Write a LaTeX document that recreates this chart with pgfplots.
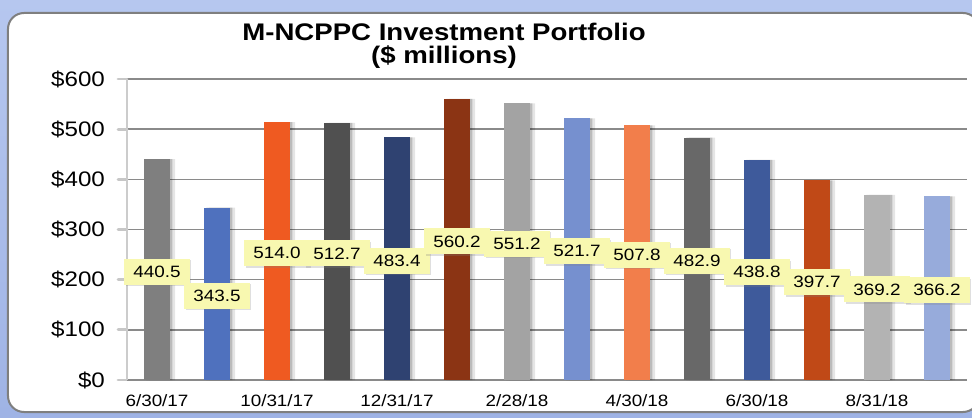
\documentclass[border=0pt]{standalone}
\usepackage{fontspec}
\setmainfont{Liberation Sans}[FakeStretch=1.15]
\usepackage{pgfplots}
\pgfplotsset{compat=1.18}
\usepackage{pgfplotstable}
\usetikzlibrary{shadows}

% bar colours, left to right
\definecolor{bar0}{HTML}{7F7F7F}
\definecolor{bar1}{HTML}{4F71BE}
\definecolor{bar2}{HTML}{EF5A21}
\definecolor{bar3}{HTML}{505050}
\definecolor{bar4}{HTML}{2F4271}
\definecolor{bar5}{HTML}{8B3414}
\definecolor{bar6}{HTML}{A3A3A3}
\definecolor{bar7}{HTML}{7690CF}
\definecolor{bar8}{HTML}{F27E4B}
\definecolor{bar9}{HTML}{686868}
\definecolor{bar10}{HTML}{3E5A9B}
\definecolor{bar11}{HTML}{C04917}
\definecolor{bar12}{HTML}{B3B3B3}
\definecolor{bar13}{HTML}{97ABDB}
\definecolor{labelfill}{HTML}{F8F8B0}
\definecolor{bgtop}{HTML}{B6C7EF}
\definecolor{bgbot}{HTML}{9FB3E5}
\definecolor{panelgray}{HTML}{7F7F7F}
\definecolor{gridgray}{HTML}{8A8A8A}

% portfolio value, $ millions
\pgfplotstableread{
i v
0 440.5
1 343.5
2 514.0
3 512.7
4 483.4
5 560.2
6 551.2
7 521.7
8 507.8
9 482.9
10 438.8
11 397.7
12 369.2
13 366.2
}\portfolio

\begin{document}
\begin{tikzpicture}
\useasboundingbox (-63.5pt,-18.5pt) rectangle (422.5pt,190pt);
\shade[top color=bgtop, bottom color=bgbot] (-63.5pt,-18.5pt) rectangle (422.5pt,190pt);
\filldraw[fill=white, draw=panelgray, line width=1pt, rounded corners=8pt]
  (-59.5pt,-16pt) rectangle (426pt,183.5pt);

\begin{axis}[
    at={(0pt,0pt)}, anchor=south west,
    scale only axis, width=420pt, height=150.5pt,
    xmin=-0.5, xmax=13.5, ymin=0, ymax=600,
    axis lines*=left,
    axis line style={-},
    x axis line style={gridgray, line width=0.8pt},
    y axis line style={black!20, line width=1.4pt},
    tick align=outside,
    major tick length=4.5pt,
    ytick={0,100,...,600},
    ytick style={black!22, line width=1.4pt, line cap=round},
    yticklabel={\$\pgfmathprintnumber{\tick}},
    yticklabel style={font=\fontsize{10.5}{12}\selectfont, xshift=-3pt},
    xtick={0,...,13},
    xtick style={draw=none},
    xticklabels={6/30/17,,10/31/17,,12/31/17,,2/28/18,,4/30/18,,6/30/18,,8/31/18,},
    xticklabel style={font=\fontsize{8.2}{10}\selectfont, yshift=0.5pt},
    extra x ticks={-0.5,0,0.5,...,13.5},
    extra x tick labels={},
    extra x tick style={major tick length=2pt, tick style={gridgray, line width=0.8pt}},
    ymajorgrids=true,
    grid style={gridgray, line width=0.7pt},
    /pgf/number format/assume math mode=true,
]
% soft shadow to the right of each bar
\addplot[ybar, bar width=13pt, bar shift=2.6pt, draw=none, fill=black, fill opacity=0.10]
  table[x=i, y=v]{\portfolio};
\addplot[ybar, bar width=13pt, bar shift=1.2pt, draw=none, fill=black, fill opacity=0.18]
  table[x=i, y=v]{\portfolio};
% bars, one colour each
\pgfplotsinvokeforeach{0,...,13}{
  \addplot[ybar, bar width=13pt, bar shift=0pt, draw=none, fill=bar#1,
    restrict x to domain=#1:#1] table[x=i, y=v]{\portfolio};
}
% value labels, set half way up each bar
\addplot[draw=none, point meta=explicit,
  nodes near coords={\pgfmathprintnumber[fixed, fixed zerofill, precision=1]{\pgfplotspointmeta}},
  every node near coord/.append style={anchor=center, yshift=-1pt, text=black,
    fill=labelfill, inner xsep=4.6pt, inner ysep=0pt, minimum height=13pt,
    font=\fontsize{8.2}{10}\selectfont,
    drop shadow={shadow xshift=0.8pt, shadow yshift=-0.8pt, opacity=0.25}}]
  table[x=i, y expr=\thisrow{v}/2, meta=v]{\portfolio};
\end{axis}

\node[font=\bfseries\fontsize{12}{11.5}\selectfont, align=center]
  at (158.5pt,167pt) {M-NCPPC Investment Portfolio\\(\$ millions)};
\end{tikzpicture}
\end{document}
